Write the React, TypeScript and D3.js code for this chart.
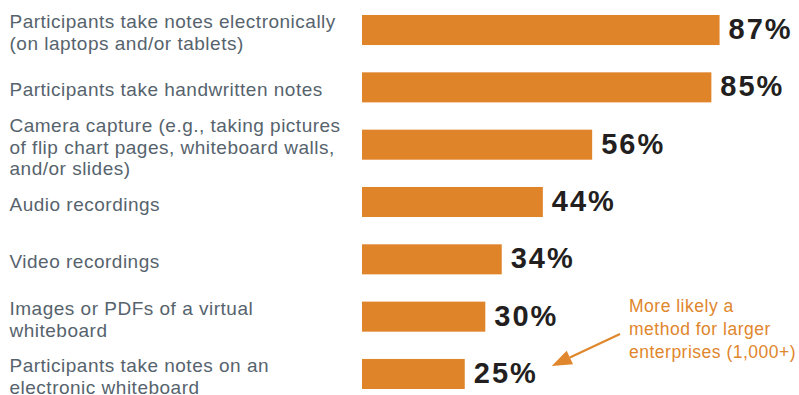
import React from "react";
import * as d3 from "d3";

const categories: string[][] = [
  ["Participants take notes electronically", "(on laptops and/or tablets)"],
  ["Participants take handwritten notes"],
  ["Camera capture (e.g., taking pictures", "of flip chart pages, whiteboard walls,", "and/or slides)"],
  ["Audio recordings"],
  ["Video recordings"],
  ["Images or PDFs of a virtual", "whiteboard"],
  ["Participants take notes on an", "electronic whiteboard"],
];
const values: number[] = [87, 85, 56, 44, 34, 30, 25];
const annotationLines: string[] = ["More likely a", "method for larger", "enterprises (1,000+)"];

const W = 799;
const H = 395;
const BAR = "#df8429";
const LABEL = "#56636d";
const PCT = "#231f20";
const ANNO = "#e0862c";
const FONT = "'Liberation Sans', Arial, Helvetica, sans-serif";
const PCT_SIZE = 29;
const PCT_SPACING = 2;

export default function App() {
  const ids = categories.map((_, i) => String(i));
  const y = d3.scaleBand<string>().domain(ids).range([15, 389]).paddingInner(0.476).paddingOuter(0);
  const x0 = 362;
  const x = d3.scaleLinear().domain([0, 100]).range([0, 411]);
  const lineH = 21.7;

  // annotation arrow points at the last bar's value label
  const last = values.length - 1;
  const lastLabelEnd =
    x0 + x(values[last]) + 9 + PCT_SIZE * 2.0 + PCT_SPACING * 2;
  const lastCy = (y(String(last)) as number) + y.bandwidth() / 2;
  const start: [number, number] = [620, 334];
  const tip: [number, number] = [lastLabelEnd + 16, lastCy - 8];
  const dx = tip[0] - start[0];
  const dy = tip[1] - start[1];
  const len = Math.hypot(dx, dy);
  const ux = dx / len;
  const uy = dy / len;
  const headL = 20;
  const headW = 7.5;
  const bx = tip[0] - ux * headL;
  const by = tip[1] - uy * headL;
  const px = -uy;
  const py = ux;
  const head = [
    [tip[0], tip[1]],
    [bx + px * headW, by + py * headW],
    [bx - px * headW, by - py * headW],
  ]
    .map((p) => p.join(","))
    .join(" ");

  return (
    <svg
      width={W}
      height={H}
      style={{ position: "absolute", left: 0, top: 0, background: "#fff" }}
      fontFamily={FONT}
    >
      {values.map((v, i) => {
        const top = y(String(i)) as number;
        const bw = y.bandwidth();
        const cy = top + bw / 2;
        const lines = categories[i];
        return (
          <g key={i}>
            <rect x={x0} y={top} width={x(v)} height={bw} fill={BAR} />
            <text
              x={x0 + x(v) + 9}
              y={cy + 9}
              fontSize={PCT_SIZE}
              fontWeight="bold"
              fill={PCT}
              letterSpacing={PCT_SPACING}
            >
              {v}%
            </text>
            {lines.map((ln, j) => (
              <text
                key={j}
                x={9.5}
                y={cy + (j - (lines.length - 1) / 2) * lineH + 9}
                fontSize={19}
                fill={LABEL}
                letterSpacing={0.5}
              >
                {ln}
              </text>
            ))}
          </g>
        );
      })}
      {annotationLines.map((ln, j) => (
        <text key={j} x={629} y={311.5 + j * 23.3} fontSize={17.5} fill={ANNO} letterSpacing={0.5}>
          {ln}
        </text>
      ))}
      <line x1={start[0]} y1={start[1]} x2={bx} y2={by} stroke={ANNO} strokeWidth={2.2} />
      <polygon points={head} fill={ANNO} />
    </svg>
  );
}
